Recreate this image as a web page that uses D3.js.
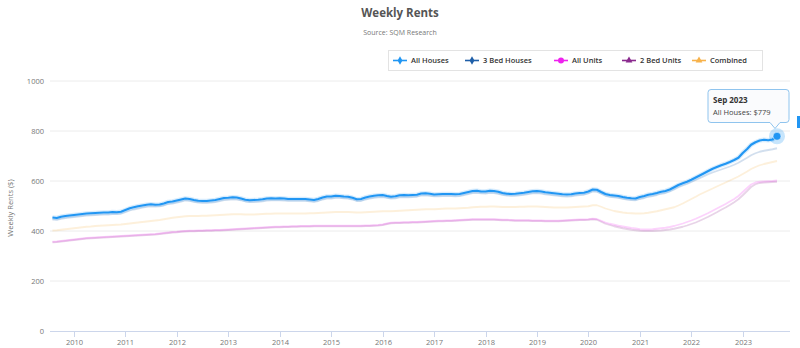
<!DOCTYPE html>
<html>
<head>
<meta charset="utf-8">
<script src="https://cdn.jsdelivr.net/npm/d3@7/dist/d3.min.js"></script>
<style>
  html, body { margin: 0; padding: 0; background: #fff; }
  svg { display: block; font-family: "Open Sans", "DejaVu Sans", sans-serif; }
</style>
</head>
<body>
<svg id="chart" width="800" height="348"></svg>
<script>
// Monthly weekly-rent series, Aug 2009 – Sep 2023 (one row per year)
const firstMonth = new Date(2009, 7, 1);
const lastMonth = new Date(2023, 8, 1);

const allHouses = [
  454, 452, 457, 460, 462,
  464, 466, 468, 470, 471, 472, 473, 474, 474, 476, 475, 477,
  484, 491, 495, 499, 502, 505, 507, 505, 506, 510, 516, 518,
  522, 526, 530, 528, 524, 521, 520, 520, 522, 524, 528, 532,
  533, 535, 534, 530, 525, 523, 524, 525, 527, 530, 531, 530,
  531, 530, 528, 528, 528, 528, 528, 526, 524, 528, 534, 538,
  538, 541, 540, 538, 537, 533, 527, 528, 534, 538, 541, 543,
  544, 540, 537, 539, 543, 544, 543, 544, 545, 550, 551, 549,
  546, 547, 548, 548, 548, 547, 548, 552, 556, 560, 561, 558,
  558, 561, 560, 557, 552, 549, 548, 549, 551, 553, 556, 559,
  560, 558, 555, 553, 551, 549, 547, 546, 547, 550, 552, 553,
  558, 566, 565, 556, 548, 544, 542, 540, 536, 533, 531, 530,
  536, 540, 545, 548, 552, 557, 560, 566, 575, 584, 591, 597,
  605, 614, 622, 631, 640, 649, 656, 663, 669, 676, 684, 693,
  712, 728, 745, 755, 762, 765, 763, 766, 779
];

const threeBedHouses = [
  446, 445, 449, 452, 454,
  456, 458, 460, 462, 463, 464, 465, 466, 466, 468, 468, 469,
  475, 482, 486, 490, 494, 497, 499, 498, 499, 502, 508, 510,
  514, 518, 522, 521, 517, 514, 513, 513, 514, 516, 520, 524,
  525, 527, 526, 523, 518, 516, 516, 517, 519, 522, 523, 523,
  523, 522, 521, 521, 521, 521, 521, 519, 517, 520, 526, 530,
  530, 533, 533, 531, 530, 526, 520, 520, 526, 530, 533, 535,
  536, 533, 530, 531, 535, 536, 535, 536, 537, 542, 543, 541,
  539, 539, 540, 540, 540, 539, 540, 544, 548, 552, 553, 551,
  550, 553, 552, 549, 545, 542, 541, 541, 543, 545, 548, 551,
  552, 550, 547, 545, 543, 541, 539, 538, 539, 542, 544, 545,
  550, 558, 557, 549, 541, 537, 535, 533, 529, 526, 524, 523,
  528, 532, 537, 540, 544, 549, 552, 558, 566, 575, 582, 588,
  596, 604, 611, 619, 627, 634, 640, 646, 652, 658, 665, 673,
  683, 693, 703, 711, 717, 721, 724, 727, 731
];

const allUnits = [
  357, 358, 360, 362, 364,
  366, 368, 370, 372, 373, 374, 375, 376, 377, 378, 379, 380,
  381, 382, 383, 384, 385, 386, 387, 388, 390, 392, 394, 396,
  397, 399, 400, 401, 401, 402, 402, 403, 403, 404, 404, 405,
  406, 407, 408, 409, 410, 411, 412, 413, 414, 415, 416, 417,
  417, 418, 418, 419, 419, 420, 420, 420, 421, 421, 421, 421,
  421, 421, 421, 421, 421, 421, 421, 421, 422, 422, 423, 424,
  426, 430, 433, 434, 434, 435, 435, 436, 436, 437, 438, 439,
  440, 441, 441, 442, 442, 443, 444, 445, 446, 447, 447, 447,
  447, 447, 447, 446, 445, 445, 444, 443, 443, 443, 443, 442,
  442, 442, 441, 441, 441, 441, 442, 443, 444, 445, 446, 446,
  447, 449, 448, 441, 434, 429, 425, 421, 418, 415, 412, 410,
  407, 406, 406, 407, 409, 411, 413, 416, 420, 425, 430, 436,
  442, 449, 456, 464, 472, 481, 490, 499, 508, 518, 528, 540,
  556, 572, 586, 594, 597, 598, 599, 600, 602
];

const twoBedUnits = [
  355, 356, 358, 360, 362,
  364, 366, 368, 370, 371, 372, 373, 374, 375, 376, 377, 378,
  379, 380, 381, 382, 383, 384, 385, 386, 388, 390, 392, 394,
  395, 397, 398, 399, 399, 400, 400, 401, 401, 402, 402, 403,
  404, 405, 406, 407, 408, 409, 410, 411, 412, 413, 414, 415,
  415, 416, 416, 417, 417, 418, 418, 418, 419, 419, 419, 419,
  419, 419, 419, 419, 419, 419, 419, 419, 420, 420, 421, 422,
  424, 428, 431, 432, 432, 433, 433, 434, 434, 435, 436, 437,
  438, 439, 439, 440, 440, 441, 442, 443, 444, 445, 445, 445,
  445, 445, 445, 444, 443, 443, 442, 441, 441, 441, 441, 440,
  440, 440, 439, 439, 439, 439, 440, 441, 442, 443, 444, 444,
  445, 447, 445, 437, 429, 424, 419, 415, 411, 408, 405, 403,
  401, 400, 400, 400, 401, 402, 404, 406, 409, 413, 417, 422,
  428, 434, 441, 449, 457, 466, 475, 485, 494, 504, 515, 527,
  543, 560, 576, 587, 592, 594, 595, 596, 597
];

const combined = [
  402, 403, 405, 407, 409,
  411, 413, 415, 417, 418, 420, 421, 422, 423, 424, 425, 426,
  428, 430, 432, 434, 436, 438, 440, 442, 444, 447, 450, 453,
  455, 457, 459, 460, 460, 460, 461, 461, 462, 463, 464, 465,
  466, 467, 467, 467, 466, 466, 466, 467, 468, 469, 469, 470,
  470, 470, 470, 470, 470, 470, 470, 471, 471, 472, 473, 474,
  475, 476, 476, 476, 476, 475, 474, 474, 475, 476, 477, 478,
  479, 479, 479, 480, 481, 482, 483, 484, 485, 486, 487, 487,
  487, 488, 489, 490, 490, 490, 491, 492, 493, 495, 496, 497,
  497, 498, 498, 497, 496, 496, 496, 496, 497, 497, 498, 498,
  498, 497, 496, 495, 494, 494, 494, 494, 495, 496, 497, 498,
  499, 503, 503, 497, 490, 485, 480, 477, 474, 472, 471, 470,
  470, 471, 473, 476, 479, 483, 487, 491, 495, 502, 510, 519,
  528, 537, 546, 554, 562, 570, 578, 586, 594, 602, 610, 618,
  628, 638, 648, 656, 663, 668, 672, 676, 680
];

const seriesNames = ["All Houses", "3 Bed Houses", "All Units", "2 Bed Units", "Combined"];
const seriesColors = ["#2196f3", "#1f5fa8", "#ee22ee", "#8a2a8e", "#f7b24a"];
const seriesSymbols = [d3.symbolDiamond, d3.symbolDiamond, d3.symbolCircle, d3.symbolTriangle, d3.symbolTriangle];
const seriesValues = [allHouses, threeBedHouses, allUnits, twoBedUnits, combined];

const yTicks = [0, 200, 400, 600, 800, 1000];
const tooltipTitle = "Sep 2023";

// ---------------------------------------------------------------
const svg = d3.select("#chart");
const months = d3.timeMonth.range(firstMonth, d3.timeMonth.offset(lastMonth, 1));

const plotLeft = 50, plotRight = 790, plotTop = 81, plotBottom = 331;

const x = d3.scaleTime()
  .domain([new Date(2010, 0, 1), new Date(2023, 8, 1)])
  .range([74, 777]);
const y = d3.scaleLinear().domain([0, 1000]).range([plotBottom, plotTop]);

// Title block
svg.append("text").attr("x", 400).attr("y", 17).attr("text-anchor", "middle")
  .attr("font-size", 11.5).attr("font-weight", "bold").attr("fill", "#555")
  .text("Weekly Rents");
svg.append("text").attr("x", 400).attr("y", 35).attr("text-anchor", "middle")
  .attr("font-size", 7).attr("fill", "#777")
  .text("Source: SQM Research");

// Grid lines and y labels
const grid = svg.append("g");
yTicks.forEach(t => {
  if (t > 0) {
    grid.append("line")
      .attr("x1", plotLeft).attr("x2", plotRight)
      .attr("y1", y(t)).attr("y2", y(t))
      .attr("stroke", "#ececec").attr("stroke-width", 1);
  }
  grid.append("text")
    .attr("x", 44).attr("y", y(t) + 3)
    .attr("text-anchor", "end").attr("font-size", 7.5).attr("fill", "#777")
    .text(t);
});

// Y axis title
svg.append("text")
  .attr("transform", `translate(13,${(plotTop + plotBottom) / 2 + 2}) rotate(-90)`)
  .attr("text-anchor", "middle").attr("font-size", 7.5).attr("fill", "#777")
  .text("Weekly Rents ($)");

// X axis
const xAxis = svg.append("g");
xAxis.append("line")
  .attr("x1", plotLeft).attr("x2", plotRight)
  .attr("y1", plotBottom + 0.5).attr("y2", plotBottom + 0.5)
  .attr("stroke", "#ccd6eb");
x.ticks(d3.timeYear.every(1)).forEach(d => {
  const px = Math.round(x(d)) + 0.5;
  xAxis.append("line")
    .attr("x1", px).attr("x2", px)
    .attr("y1", plotBottom).attr("y2", plotBottom + 6)
    .attr("stroke", "#ccd6eb");
  xAxis.append("text")
    .attr("x", px).attr("y", plotBottom + 14)
    .attr("text-anchor", "middle").attr("font-size", 7.5).attr("fill", "#777")
    .text(d3.timeFormat("%Y")(d));
});

// Series lines: highlighted series on top, others dimmed
const line = d3.line()
  .x((v, i) => x(months[i]))
  .y(v => y(v))
  .curve(d3.curveLinear);

const lines = svg.append("g");
const drawOrder = [4, 3, 2, 1];
drawOrder.forEach(k => {
  lines.append("path")
    .datum(seriesValues[k])
    .attr("d", line)
    .attr("fill", "none")
    .attr("stroke", seriesColors[k])
    .attr("stroke-opacity", 0.2)
    .attr("stroke-width", 1.8)
    .attr("stroke-linejoin", "round");
});
lines.append("path")
  .datum(allHouses)
  .attr("d", line)
  .attr("fill", "none")
  .attr("stroke", seriesColors[0])
  .attr("stroke-opacity", 0.18)
  .attr("stroke-width", 4.5)
  .attr("stroke-linejoin", "round");
lines.append("path")
  .datum(allHouses)
  .attr("d", line)
  .attr("fill", "none")
  .attr("stroke", seriesColors[0])
  .attr("stroke-width", 2.2)
  .attr("stroke-linejoin", "round");

// Hovered point
const lastIdx = allHouses.length - 1;
const px = x(months[lastIdx]), py = y(allHouses[lastIdx]);
svg.append("circle").attr("cx", px).attr("cy", py).attr("r", 8)
  .attr("fill", seriesColors[0]).attr("fill-opacity", 0.25);
svg.append("circle").attr("cx", px).attr("cy", py).attr("r", 4)
  .attr("fill", seriesColors[0]).attr("stroke", "#fff").attr("stroke-width", 0.5);

// Tooltip
const tip = svg.append("g");
const tx0 = 708, tx1 = 789, ty0 = 89.5, ty1 = 122.5, notchX = px - 2;
tip.append("path")
  .attr("d", `M${tx0 + 3},${ty0} H${tx1 - 3} Q${tx1},${ty0} ${tx1},${ty0 + 3} V${ty1 - 3} Q${tx1},${ty1} ${tx1 - 3},${ty1}
    H${notchX + 5} L${notchX},${ty1 + 6} L${notchX - 5},${ty1} H${tx0 + 3} Q${tx0},${ty1} ${tx0},${ty1 - 3} V${ty0 + 3} Q${tx0},${ty0} ${tx0 + 3},${ty0} Z`)
  .attr("fill", "rgba(250,251,253,0.92)")
  .attr("stroke", "#8fc4ee").attr("stroke-width", 1);
tip.append("text").attr("x", 713).attr("y", 103)
  .attr("font-size", 8).attr("font-weight", "bold").attr("fill", "#333")
  .text(tooltipTitle);
tip.append("text").attr("x", 713).attr("y", 115)
  .attr("font-size", 7.5).attr("fill", "#444")
  .text(`${seriesNames[0]}: $${allHouses[lastIdx]}`);

// Edge of a second panel at the right border
svg.append("rect").attr("x", 797).attr("y", 116).attr("width", 3).attr("height", 12)
  .attr("fill", "#2196f3");

// Legend
const legend = svg.append("g");
legend.append("rect")
  .attr("x", 388.5).attr("y", 50.5).attr("width", 374).attr("height", 20)
  .attr("fill", "#fff").attr("stroke", "#e3e3e3");
const legendX = [393, 465, 554, 622, 692];
seriesNames.forEach((name, k) => {
  const lx = legendX[k], ly = 60.5;
  legend.append("line")
    .attr("x1", lx).attr("x2", lx + 14).attr("y1", ly).attr("y2", ly)
    .attr("stroke", seriesColors[k]).attr("stroke-width", 1.6);
  legend.append("path")
    .attr("transform", `translate(${lx + 7},${ly})`)
    .attr("d", d3.symbol().type(seriesSymbols[k]).size(k === 2 ? 28 : 20)())
    .attr("fill", seriesColors[k]);
  legend.append("text")
    .attr("x", lx + 18).attr("y", ly + 2.8)
    .attr("font-size", 7.5).attr("font-weight", "600").attr("fill", "#333")
    .text(name);
});
</script>
</body>
</html>
